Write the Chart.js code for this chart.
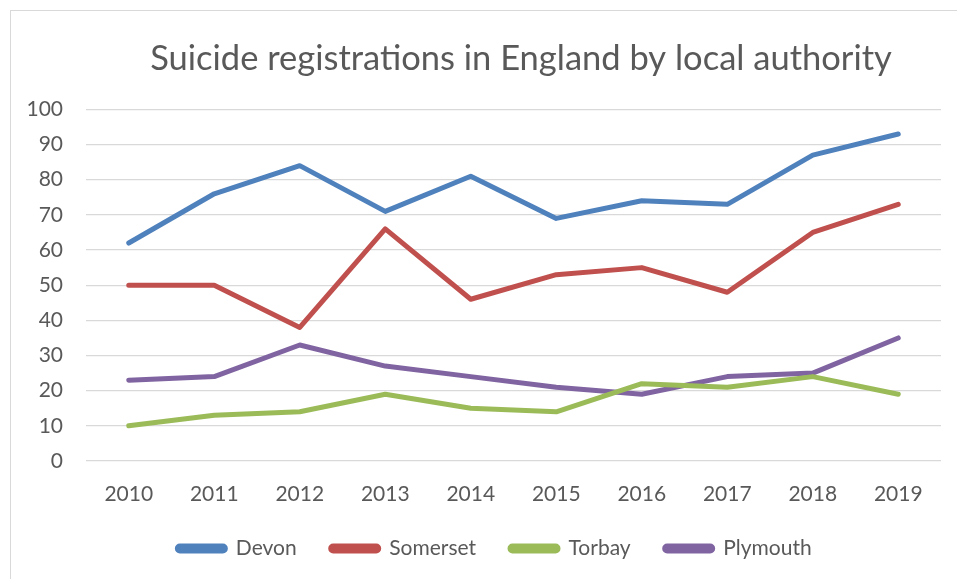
<!DOCTYPE html>
<html>
<head>
<meta charset="utf-8">
<script src="https://cdn.jsdelivr.net/npm/chart.js@4.4.1/dist/chart.umd.min.js"></script>
<style>
    html, body { margin: 0; padding: 0; background: #fff; overflow: hidden; }
    #frame {
        position: absolute;
        left: 10px;
        top: 10px;
        width: 1020px;
        height: 600px;
        border: 1px solid #d9d9d9;
    }
</style>
</head>
<body>
<div id="frame"><canvas id="suicideChart"></canvas></div>
<script>
// Suicide registrations per local authority, 2010-2019
const years = ['2010', '2011', '2012', '2013', '2014', '2015', '2016', '2017', '2018', '2019'];
const devon = [62, 76, 84, 71, 81, 69, 74, 73, 87, 93];
const somerset = [50, 50, 38, 66, 46, 53, 55, 48, 65, 73];
const torbay = [10, 13, 14, 19, 15, 14, 22, 21, 24, 19];
const plymouth = [23, 24, 33, 27, 24, 21, 19, 24, 25, 35];
const yTicks = [0, 10, 20, 30, 40, 50, 60, 70, 80, 90, 100];

const textColor = '#595959';
const fontFamily = 'Lato, "Open Sans", sans-serif';

function series(label, data, color) {
    return {
        label: label,
        data: data,
        borderColor: color,
        backgroundColor: color,
        borderWidth: 5,
        borderCapStyle: 'round',
        borderJoinStyle: 'round',
        pointRadius: 0,
        pointHoverRadius: 0,
        tension: 0
    };
}

// nudge the legend a little to the left of the plot centre
const legendShift = {
    id: 'legendShift',
    afterLayout(chart) {
        const lg = chart.legend;
        if (!lg) return;
        lg.left -= 19;
        lg.right -= 19;
        lg.adjustHitBoxes();
    }
};

const ctx = document.getElementById('suicideChart').getContext('2d');

new Chart(ctx, {
    type: 'line',
    data: {
        labels: years,
        datasets: [
            series('Devon', devon, '#4f81bd'),
            series('Somerset', somerset, '#c0504d'),
            series('Torbay', torbay, '#9bbb59'),
            series('Plymouth', plymouth, '#8064a2')
        ]
    },
    plugins: [legendShift],
    options: {
        responsive: true,
        maintainAspectRatio: false,
        animation: false,
        layout: { padding: { top: 0, bottom: 42, left: 0, right: 0 } },
        plugins: {
            title: {
                display: true,
                text: 'Suicide registrations in England by local authority',
                color: textColor,
                font: { family: fontFamily, size: 34.5, weight: 'normal' },
                padding: { top: 27, bottom: 30 }
            },
            legend: {
                position: 'bottom',
                fullSize: false,
                labels: {
                    color: textColor,
                    font: { family: fontFamily, size: 21 },
                    boxWidth: 48,
                    boxHeight: 5,
                    useBorderRadius: true,
                    borderRadius: 2.5,
                    padding: 34
                }
            },
            tooltip: { enabled: false }
        },
        scales: {
            x: {
                offset: true,
                grid: { display: false, drawTicks: false },
                border: { display: false },
                ticks: {
                    color: textColor,
                    font: { family: fontFamily, size: 21 },
                    padding: 21,
                    maxRotation: 0
                },
                afterFit: (scale) => { scale.height = 43; }
            },
            y: {
                min: 0,
                max: 100,
                afterBuildTicks: (scale) => { scale.ticks = yTicks.map(v => ({ value: v })); },
                grid: { color: '#d9d9d9', lineWidth: 1.3, drawTicks: false },
                border: { display: false },
                ticks: {
                    color: textColor,
                    font: { family: fontFamily, size: 21 },
                    padding: 23
                },
                afterFit: (scale) => { scale.width = 75; }
            },
            // empty axis on the right keeps the plot narrower than the frame
            spacer: {
                position: 'right',
                display: true,
                grid: { display: false, drawTicks: false },
                border: { display: false },
                ticks: { display: false },
                afterFit: (scale) => { scale.width = 90; }
            }
        }
    }
});
</script>
</body>
</html>
